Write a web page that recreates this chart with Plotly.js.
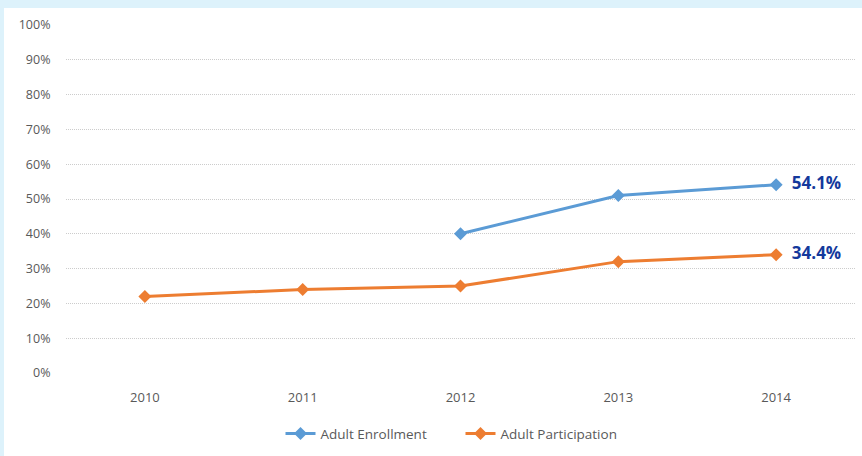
<!DOCTYPE html>
<html>
<head>
<meta charset="utf-8">
<script src="https://cdn.plot.ly/plotly-3.0.1.min.js"></script>
<style>
html,body{margin:0;padding:0;background:#ddf2fb;width:862px;height:456px;overflow:hidden;}
#chart{position:absolute;left:4px;top:8px;width:858px;height:448px;background:#fff;}
</style>
</head>
<body>
<div id="chart"></div>
<script>
const years = ['2010','2011','2012','2013','2014'];
const enrollment = [null, null, 0.40, 0.51, 0.541];
const participation = [0.22, 0.24, 0.25, 0.32, 0.34];
const enrollmentLabels = ['', '', '', '', '54.1%'];
const participationLabels = ['', '', '', '', '34.4%'];
const yTicks = [0,0.1,0.2,0.3,0.4,0.5,0.6,0.7,0.8,0.9,1.0];
const yTickText = ['0%','10%','20%','30%','40%','50%','60%','70%','80%','90%','100%'];

const labelFont = {family: 'Open Sans, sans-serif', size: 17, color: '#14399c', weight: 700};

const traces = [
  {x: years, y: enrollment, name: 'Adult Enrollment', type: 'scatter', mode: 'lines+markers+text',
   text: enrollmentLabels, texttemplate: '\u2002%{text}', textposition: 'middle right', textfont: labelFont, cliponaxis: false,
   line: {color: '#5b9bd5', width: 3}, marker: {symbol: 'diamond', size: 10, color: '#5b9bd5'}},
  {x: years, y: participation, name: 'Adult Participation', type: 'scatter', mode: 'lines+markers+text',
   text: participationLabels, texttemplate: '\u2002%{text}', textposition: 'middle right', textfont: labelFont, cliponaxis: false,
   line: {color: '#ed7d31', width: 3}, marker: {symbol: 'diamond', size: 10, color: '#ed7d31'}}
];

const layout = {
  width: 858, height: 448,
  margin: {l: 62, r: 7, t: 17, b: 79},
  paper_bgcolor: '#ffffff', plot_bgcolor: '#ffffff',
  font: {family: 'Open Sans, sans-serif', size: 12, color: '#595959'},
  showlegend: true,
  legend: {orientation: 'h', x: 0.5, xanchor: 'center', y: -0.13, yanchor: 'top',
           entrywidth: 135, entrywidthmode: 'pixels',
           font: {size: 13.5, color: '#595959'}},
  xaxis: {type: 'category', range: [-0.5, 4.5], showgrid: false, zeroline: false, showline: false,
          ticks: 'outside', ticklen: 12, tickcolor: 'rgba(0,0,0,0)',
          tickfont: {size: 13, color: '#595959'}},
  yaxis: {range: [0, 1.0], tickvals: yTicks, ticktext: yTickText, showgrid: true, gridcolor: '#cccccc',
          griddash: '1px,1px', gridwidth: 1, zeroline: false, showline: false,
          ticks: 'outside', ticklen: 12, tickcolor: 'rgba(0,0,0,0)',
          tickfont: {size: 12.5, color: '#595959'}}
};

Plotly.newPlot('chart', traces, layout, {displayModeBar: false, staticPlot: true});
</script>
</body>
</html>
